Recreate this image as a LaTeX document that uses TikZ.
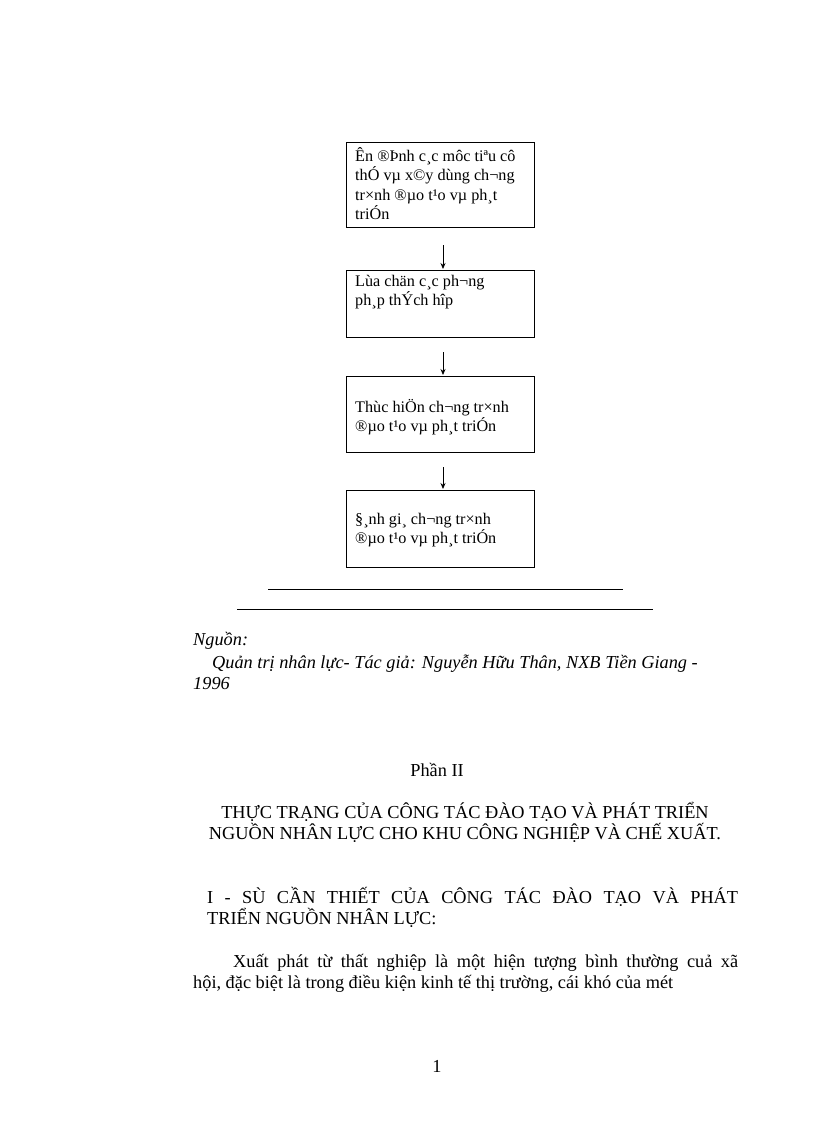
\documentclass[tikz,border=0pt]{standalone}
\usepackage{fontspec}
\setmainfont{Liberation Serif}
\usetikzlibrary{arrows.meta}
\begin{document}
\begin{tikzpicture}[x=1pt,y=-1pt,
  box/.style={draw,line width=0.8pt},
  btxt/.style={anchor=north west,align=left,inner sep=0pt,font=\fontsize{16.2}{19.5}\selectfont},
  arr/.style={-{Stealth[length=6pt,width=5pt]},line width=0.8pt},
  body/.style={inner sep=0pt,font=\fontsize{18.3}{21}\selectfont}]
\useasboundingbox (0,0) rectangle (816,1123);
\draw[box] (346,142) rectangle (534,227);
\draw[box] (346,270) rectangle (534,337);
\draw[box] (346,376) rectangle (534,452);
\draw[box] (346,490) rectangle (534,567);
\node[btxt] (t1) at (355,147) {Ên ®Þnh c¸c môc tiªu cô\\thÓ vµ x©y dùng ch¬ng\\tr×nh ®µo t¹o vµ ph¸t\\triÓn};
\node[btxt] (t2) at (355,275) {Lùa chän c¸c ph¬ng\\ph¸p thÝch hîp};
\node[btxt] (t3) at (355,399) {Thùc hiÖn ch¬ng tr×nh\\®µo t¹o vµ ph¸t triÓn};
\node[btxt] (t4) at (355,513) {§¸nh gi¸ ch¬ng tr×nh\\®µo t¹o vµ ph¸t triÓn};
\coordinate (a1) at (443,245); \coordinate (b1) at (443,269);
\coordinate (a2) at (443,352); \coordinate (b2) at (443,375);
\coordinate (a3) at (443,467); \coordinate (b3) at (443,489);
\draw[arr] (a1) -- (b1);
\draw[arr] (a2) -- (b2);
\draw[arr] (a3) -- (b3);
\coordinate (l1a) at (268,589); \coordinate (l1b) at (623,589);
\coordinate (l2a) at (237,609); \coordinate (l2b) at (653,609);
\draw[line width=0.8pt] (l1a) -- (l1b);
\draw[line width=0.8pt] (l2a) -- (l2b);
\node[body,anchor=west,font=\fontsize{18.3}{21}\selectfont\itshape] (src) at (193,641) {Nguồn:};
\node[body,anchor=west,font=\fontsize{18.3}{21}\selectfont\itshape] (src2) at (212,664) {Quản trị nhân lực- Tác giả: Nguyễn Hữu Thân, NXB Tiền Giang -};
\node[body,anchor=west,font=\fontsize{18.3}{21}\selectfont\itshape] (src3) at (193,684) {1996};
\node[body] (ph) at (437,770) {Phần II};
\node[body] (h1) at (465,812) {THỰC TRẠNG CỦA CÔNG TÁC ĐÀO TẠO VÀ PHÁT TRIỂN};
\node[body] (h2) at (465,833) {NGUỒN NHÂN LỰC CHO KHU CÔNG NGHIỆP VÀ CHẾ XUẤT.};
\node[body,anchor=west] (s1) at (207,897) {\makebox[531pt][s]{I - SÙ CẦN THIẾT CỦA CÔNG TÁC ĐÀO TẠO VÀ PHÁT}};
\node[body,anchor=west] (s2) at (207,918) {TRIỂN NGUỒN NHÂN LỰC:};
\node[body,anchor=west] (p1) at (233,963) {\makebox[505pt][s]{Xuất phát từ thất nghiệp là một hiện tượng bình thường cuả xã}};
\node[body,anchor=west] (p2) at (193,984) {hội, đặc biệt là trong điều kiện kinh tế thị trường, cái khó của mét};
\node[body] (pg) at (437,1066) {1};
\end{tikzpicture}
\end{document}
